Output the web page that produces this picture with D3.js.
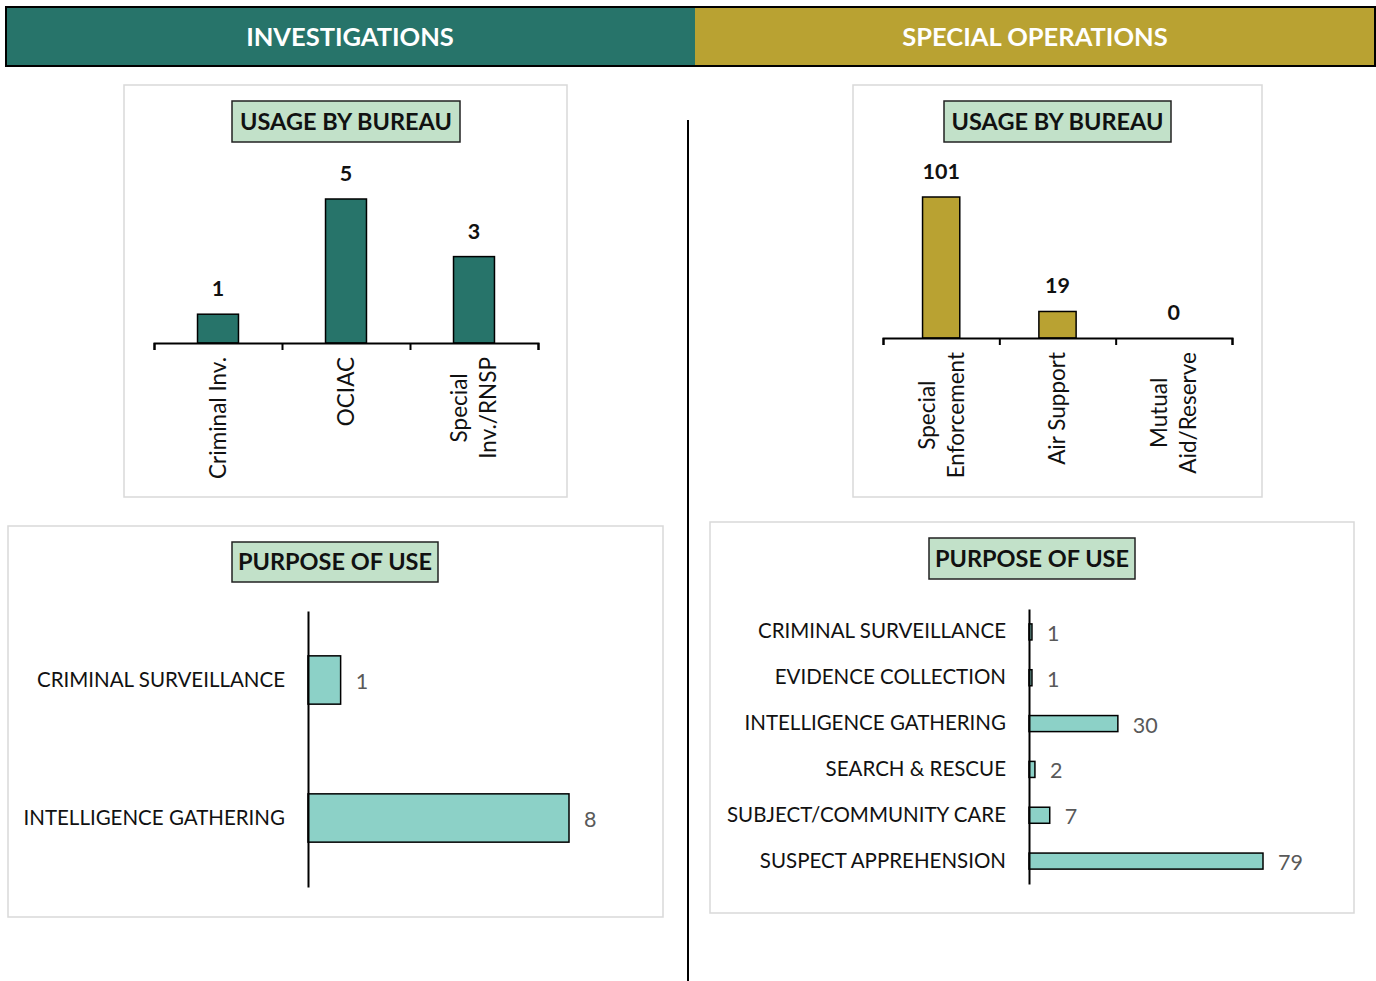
<!DOCTYPE html>
<html>
<head>
<meta charset="utf-8">
<script src="https://cdn.jsdelivr.net/npm/d3@7"></script>
<style>
  body { margin: 0; background: #fff; }
  text { font-family: Lato, "Open Sans", sans-serif; }
</style>
</head>
<body>
<script>
// section headers
var sections = ["INVESTIGATIONS", "SPECIAL OPERATIONS"];

// investigations - usage by bureau
var invBureau = ["Criminal Inv.", "OCIAC", "Special Inv./RNSP"];
var invBureauLines = [["Criminal Inv."], ["OCIAC"], ["Special", "Inv./RNSP"]];
var invBureauVals = [1, 5, 3];

// special operations - usage by bureau
var soBureau = ["Special Enforcement", "Air Support", "Mutual Aid/Reserve"];
var soBureauLines = [["Special", "Enforcement"], ["Air Support"], ["Mutual", "Aid/Reserve"]];
var soBureauVals = [101, 19, 0];

// investigations - purpose of use
var invPurpose = ["CRIMINAL SURVEILLANCE", "INTELLIGENCE GATHERING"];
var invPurposeVals = [1, 8];

// special operations - purpose of use
var soPurpose = ["CRIMINAL SURVEILLANCE", "EVIDENCE COLLECTION", "INTELLIGENCE GATHERING",
                 "SEARCH & RESCUE", "SUBJECT/COMMUNITY CARE", "SUSPECT APPREHENSION"];
var soPurposeVals = [1, 1, 30, 2, 7, 79];

var teal = "#27746a",
    gold = "#b9a232",
    lightTeal = "#8cd1c7",
    titleFill = "#c2e1c9";

var svg = d3.select("body").append("svg")
    .attr("width", 1376)
    .attr("height", 981);

// header band
svg.append("rect").attr("x", 6).attr("y", 7).attr("width", 689).attr("height", 59).attr("fill", teal);
svg.append("rect").attr("x", 695).attr("y", 7).attr("width", 680).attr("height", 59).attr("fill", gold);
svg.append("rect").attr("x", 6).attr("y", 7).attr("width", 1369).attr("height", 59)
    .attr("fill", "none").attr("stroke", "#000").attr("stroke-width", 2);
svg.selectAll(".section")
    .data(sections)
  .enter().append("text")
    .attr("class", "section")
    .attr("x", function(d, i) { return i == 0 ? 350 : 1035; })
    .attr("y", 37)
    .attr("dy", "0.35em")
    .attr("text-anchor", "middle")
    .attr("fill", "#fff")
    .style("font-size", "25.5px")
    .style("font-weight", "bold")
    .text(function(d) { return d; });

// divider
svg.append("line")
    .attr("x1", 688).attr("x2", 688).attr("y1", 120).attr("y2", 981)
    .attr("stroke", "#000").attr("stroke-width", 2);

function panel(x, y, w, h) {
  svg.append("rect")
      .attr("x", x).attr("y", y).attr("width", w).attr("height", h)
      .attr("fill", "#fff").attr("stroke", "#d9d9d9").attr("stroke-width", 1.5);
}

function titleBox(x, y, w, h, label) {
  svg.append("rect")
      .attr("x", x).attr("y", y).attr("width", w).attr("height", h)
      .attr("fill", titleFill).attr("stroke", "#222").attr("stroke-width", 1.5);
  svg.append("text")
      .attr("x", x + w / 2).attr("y", y + h / 2)
      .attr("dy", "0.36em")
      .attr("text-anchor", "middle")
      .style("font-size", "23.5px")
      .style("font-weight", "bold")
      .attr("fill", "#111")
      .text(label);
}

panel(124, 85, 443, 412);
panel(853, 85, 409, 412);
panel(8, 526, 655, 391);
panel(710, 522, 644, 391);

titleBox(232, 101, 228, 41, "USAGE BY BUREAU");
titleBox(944, 101, 227, 41, "USAGE BY BUREAU");
titleBox(232, 542, 206, 40, "PURPOSE OF USE");
titleBox(929, 538, 206, 41, "PURPOSE OF USE");

// vertical column chart
function columnChart(cfg) {
  var g = svg.append("g");
  var x = d3.scaleBand().domain(cfg.cats).range([cfg.x0, cfg.x1])
      .paddingInner(0.68).paddingOuter(0.34);
  var y = d3.scaleLinear().domain([0, d3.max(cfg.vals)]).range([cfg.base, cfg.top]);
  var data = cfg.cats.map(function(c, i) { return {cat: c, val: cfg.vals[i], lines: cfg.lines[i]}; });

  g.selectAll(".bar")
      .data(data.filter(function(d) { return d.val > 0; }))
    .enter().append("rect")
      .attr("class", "bar")
      .attr("x", function(d) { return x(d.cat); })
      .attr("y", function(d) { return y(d.val); })
      .attr("width", x.bandwidth())
      .attr("height", function(d) { return cfg.base - y(d.val); })
      .attr("fill", cfg.color)
      .attr("stroke", "#000")
      .attr("stroke-width", 1.5);

  g.selectAll(".val")
      .data(data)
    .enter().append("text")
      .attr("class", "val")
      .attr("x", function(d) { return x(d.cat) + x.bandwidth() / 2; })
      .attr("y", function(d) { return y(d.val) - 18; })
      .attr("text-anchor", "middle")
      .style("font-size", "21.5px")
      .style("font-weight", "bold")
      .attr("fill", "#111")
      .text(function(d) { return d.val; });

  // tick marks sit on the category boundaries
  var edges = d3.scaleLinear().domain([0, cfg.cats.length]).range([cfg.x0, cfg.x1]);
  var ax = g.append("g")
      .attr("transform", "translate(0," + cfg.base + ")")
      .call(d3.axisBottom(edges).ticks(cfg.cats.length).tickSize(7).tickSizeOuter(7).tickFormat(""));
  ax.selectAll("path, line").attr("stroke", "#000").attr("stroke-width", 2);

  var lab = g.selectAll(".cat")
      .data(data)
    .enter().append("g")
      .attr("class", "cat")
      .attr("transform", function(d) {
        return "translate(" + (x(d.cat) + x.bandwidth() / 2) + "," + (cfg.base + 14) + ") rotate(-90)";
      });
  lab.each(function(d) {
    var t = d3.select(this).append("text")
        .attr("text-anchor", "middle")
        .style("font-size", "22.5px")
        .attr("fill", "#111");
    d.lines.forEach(function(s, j) {
      t.append("tspan")
          .attr("x", 0)
          .attr("y", (j - (d.lines.length - 1) / 2) * 29)
          .attr("dy", "0.35em")
          .text(s);
    });
    var w = t.node().getBBox().width;
    t.attr("transform", "translate(" + (-w / 2) + ",0)");
  });
}

// horizontal bar chart
function barChart(cfg) {
  var g = svg.append("g");
  var y = d3.scaleBand().domain(cfg.cats).range([cfg.y0, cfg.y1])
      .paddingInner(0.65).paddingOuter(0.325);
  var x = d3.scaleLinear().domain([0, d3.max(cfg.vals)]).range([cfg.axisX, cfg.x1]);
  var data = cfg.cats.map(function(c, i) { return {cat: c, val: cfg.vals[i]}; });

  g.selectAll(".hbar")
      .data(data)
    .enter().append("rect")
      .attr("class", "hbar")
      .attr("x", cfg.axisX)
      .attr("y", function(d) { return y(d.cat); })
      .attr("width", function(d) { return x(d.val) - cfg.axisX; })
      .attr("height", y.bandwidth())
      .attr("fill", lightTeal)
      .attr("stroke", "#000")
      .attr("stroke-width", 1.5);

  g.selectAll(".hval")
      .data(data)
    .enter().append("text")
      .attr("class", "hval")
      .attr("x", function(d) { return x(d.val) + 15; })
      .attr("y", function(d) { return y(d.cat) + y.bandwidth() / 2; })
      .attr("dy", "0.42em")
      .style("font-size", "21.5px")
      .attr("fill", "#595959")
      .text(function(d) { return d.val; });

  var ax = g.append("g")
      .attr("transform", "translate(" + cfg.axisX + ",0)")
      .call(d3.axisLeft(y).tickSize(0).tickSizeOuter(0).tickPadding(23));
  ax.select(".domain").attr("stroke", "#000").attr("stroke-width", 2);
  ax.selectAll("text")
      .style("font-family", "Lato, 'Open Sans', sans-serif")
      .style("font-size", "20.5px")
      .attr("fill", "#111");
}

columnChart({cats: invBureau, lines: invBureauLines, vals: invBureauVals, color: teal,
             x0: 154, x1: 538, base: 343, top: 199});
columnChart({cats: soBureau, lines: soBureauLines, vals: soBureauVals, color: gold,
             x0: 883, x1: 1232, base: 338, top: 197});
barChart({cats: invPurpose, vals: invPurposeVals, axisX: 308, x1: 569, y0: 611, y1: 887});
barChart({cats: soPurpose, vals: soPurposeVals, axisX: 1029, x1: 1263, y0: 609, y1: 884});
</script>
</body>
</html>
